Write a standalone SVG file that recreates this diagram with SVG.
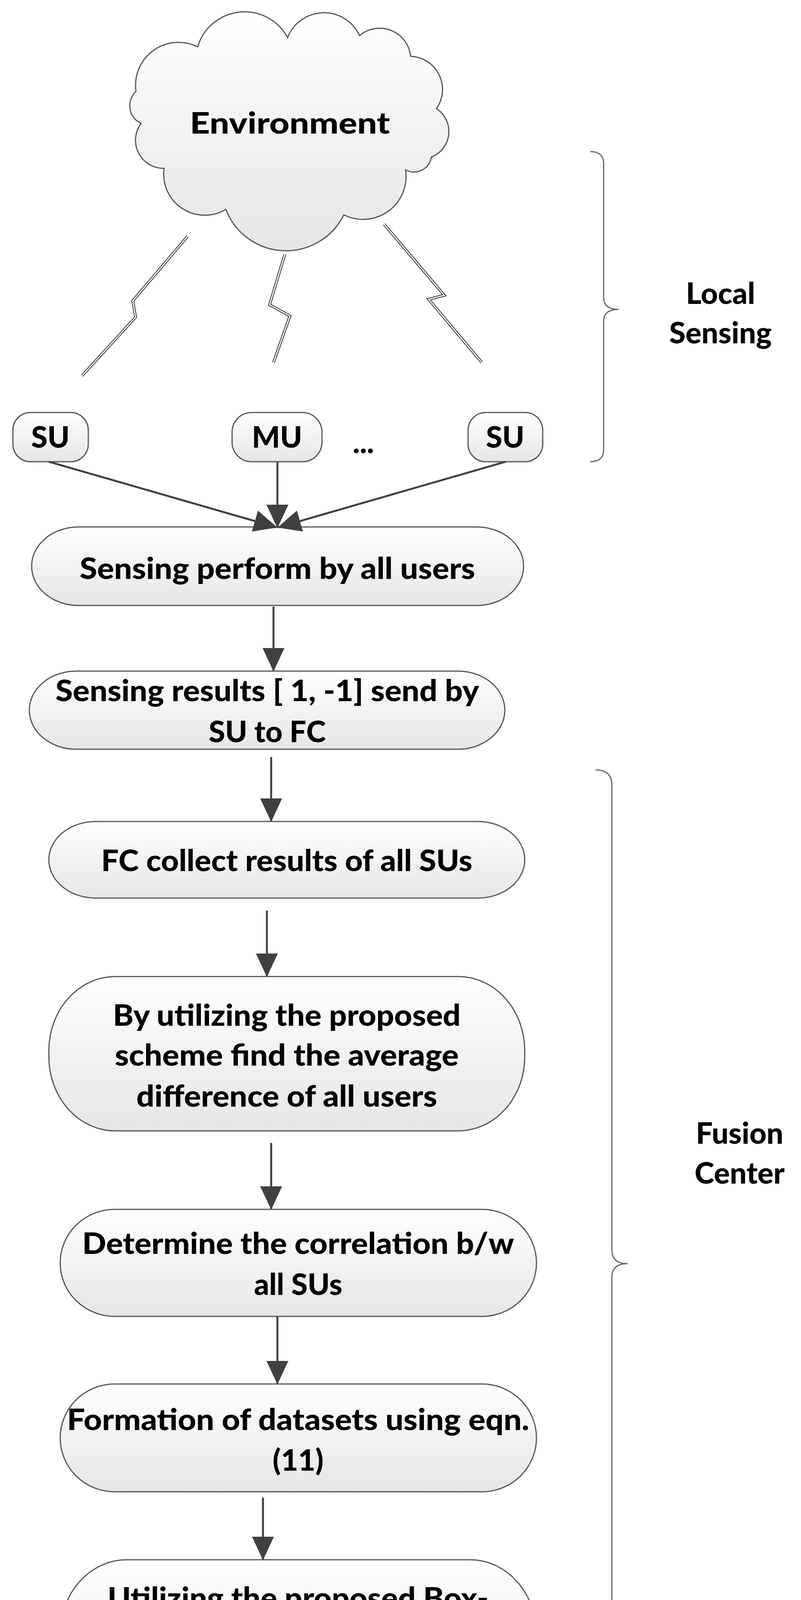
<svg xmlns="http://www.w3.org/2000/svg" width="2050" height="4507" viewBox="0 0 2050 4507">
<defs>
<linearGradient id="g" x1="0" y1="0" x2="0" y2="1"><stop offset="0" stop-color="#ffffff"/><stop offset="1" stop-color="#e6e6e6"/></linearGradient>
<marker id="ah" markerUnits="userSpaceOnUse" markerWidth="60" markerHeight="60" viewBox="0 0 60 60" refX="58" refY="30" orient="auto"><path d="M0,2 L60,30 L0,58 Z" fill="#404040"/></marker>
</defs>
<style>
.n{fill:url(#g);stroke:#555;stroke-width:3}
.t{font-family:Lato,"Open Sans",sans-serif;font-weight:900;font-size:76px;fill:#000;text-anchor:middle}
.c{stroke:#404040;stroke-width:5;fill:none;marker-end:url(#ah)}
.bo{stroke:#333;stroke-width:7;fill:none}
.bi{stroke:#fff;stroke-width:3;fill:none}
.br{stroke:#666;stroke-width:3;fill:none}
</style>
<rect width="2050" height="4507" fill="#fff"/>
<g id="environment">
<path class="n" d="M348,234 A110,110 0 0 1 506,120 A125,125 0 0 1 736,96 A100,100 0 0 1 920,91 A80,80 0 0 1 1051,144 A85,85 0 0 1 1117,278 A70,70 0 0 1 1104,402 A45,45 0 0 1 1038,435 A110,110 0 0 1 880,550 A165,165 0 0 1 578,536 A105,105 0 0 1 420,431 A72,72 0 0 1 361,316 A50,50 0 0 1 348,234 Z"/>
<text class="t" x="742" y="342" font-size="90" textLength="512" lengthAdjust="spacingAndGlyphs">Environment</text>
</g>
<g id="bolts">
<polyline class="bo" points="480,605 340,770 347,812 210,962"/><polyline class="bi" points="480,605 340,770 347,812 210,962"/>
<polyline class="bo" points="729,651 690,780 742,809 700,928"/><polyline class="bi" points="729,651 690,780 742,809 700,928"/>
<polyline class="bo" points="983,574 1137,756 1097,766 1233,928"/><polyline class="bi" points="983,574 1137,756 1097,766 1233,928"/>
</g>
<g id="su1"><rect class="n" x="33" y="1056" width="193" height="126" rx="45" ry="45"/><text class="t" x="129" y="1146">SU</text></g>
<g id="mu"><rect class="n" x="594" y="1056" width="230" height="126" rx="50" ry="50"/><text class="t" x="709" y="1146">MU</text></g>
<text class="t" x="930" y="1160" font-size="110">...</text>
<g id="su2"><rect class="n" x="1198" y="1056" width="191" height="126" rx="45" ry="45"/><text class="t" x="1293" y="1146">SU</text></g>
<g id="n1"><rect class="n" x="81" y="1349" width="1259" height="201" rx="120" ry="100"/><text class="t" x="710" y="1482" textLength="1012" lengthAdjust="spacingAndGlyphs">Sensing perform by all users</text></g>
<g id="n2"><rect class="n" x="75" y="1718" width="1217" height="200" rx="120" ry="100"/><text class="t" x="684" y="1795" textLength="1084" lengthAdjust="spacingAndGlyphs">Sensing results [ 1, -1] send by</text><text class="t" x="684" y="1900">SU to FC</text></g>
<g id="n3"><rect class="n" x="125" y="2103" width="1218" height="196" rx="120" ry="98"/><text class="t" x="734" y="2230" textLength="950" lengthAdjust="spacingAndGlyphs">FC collect results of all SUs</text></g>
<g id="n4"><rect class="n" x="125" y="2500" width="1218" height="395" rx="170" ry="190"/><text class="t" x="734" y="2626" textLength="890" lengthAdjust="spacingAndGlyphs">By utilizing the proposed</text><text class="t" x="734" y="2728" textLength="880" lengthAdjust="spacingAndGlyphs">scheme find the average</text><text class="t" x="734" y="2833" textLength="770" lengthAdjust="spacingAndGlyphs">difference of all users</text></g>
<g id="n5"><rect class="n" x="154" y="3096" width="1219" height="274" rx="140" ry="137"/><text class="t" x="763" y="3210" textLength="1105" lengthAdjust="spacingAndGlyphs">Determine the correlation b/w</text><text class="t" x="763" y="3315">all SUs</text></g>
<g id="n6"><rect class="n" x="154" y="3543" width="1219" height="276" rx="140" ry="138"/><text class="t" x="763" y="3661" textLength="1183" lengthAdjust="spacingAndGlyphs">Formation of datasets using eqn.</text><text class="t" x="763" y="3765">(11)</text></g>
<g id="n7"><rect class="n" x="154" y="3993" width="1219" height="396" rx="170" ry="190"/><text class="t" x="763" y="4118" textLength="975" lengthAdjust="spacingAndGlyphs">Utilizing the proposed Box-</text><text class="t" x="763" y="4219" textLength="1095" lengthAdjust="spacingAndGlyphs">whisker plot to classify SU and</text><text class="t" x="763" y="4324" textLength="515" lengthAdjust="spacingAndGlyphs">outliers &amp; Plot</text></g>
<g id="connectors">
<line class="c" x1="125" y1="1182" x2="708" y2="1350"/>
<line class="c" x1="710" y1="1182" x2="710" y2="1350"/>
<line class="c" x1="1294" y1="1182" x2="712" y2="1350"/>
<line class="c" x1="700" y1="1553" x2="700" y2="1717"/>
<line class="c" x1="694" y1="1938" x2="694" y2="2102"/>
<line class="c" x1="683" y1="2331" x2="683" y2="2499"/>
<line class="c" x1="694" y1="2926" x2="694" y2="3095"/>
<line class="c" x1="710" y1="3370" x2="710" y2="3542"/>
<line class="c" x1="673" y1="3834" x2="673" y2="3992"/>
</g>
<g id="local-sensing">
<path class="br" d="M1511,388 Q1545,388 1545,420 L1545,762 Q1545,792 1583,792 Q1545,792 1545,822 L1545,1150 Q1545,1182 1511,1182"/>
<text class="t" x="1844" y="778">Local</text><text class="t" x="1844" y="879">Sensing</text>
</g>
<g id="fusion-center">
<path class="br" d="M1524,1971 Q1566,1971 1566,2010 L1566,3200 Q1566,3235 1606,3235 Q1566,3235 1566,3270 L1566,4425 Q1566,4461 1524,4461"/>
<text class="t" x="1893" y="2928">Fusion</text><text class="t" x="1893" y="3030">Center</text>
</g>
</svg>
